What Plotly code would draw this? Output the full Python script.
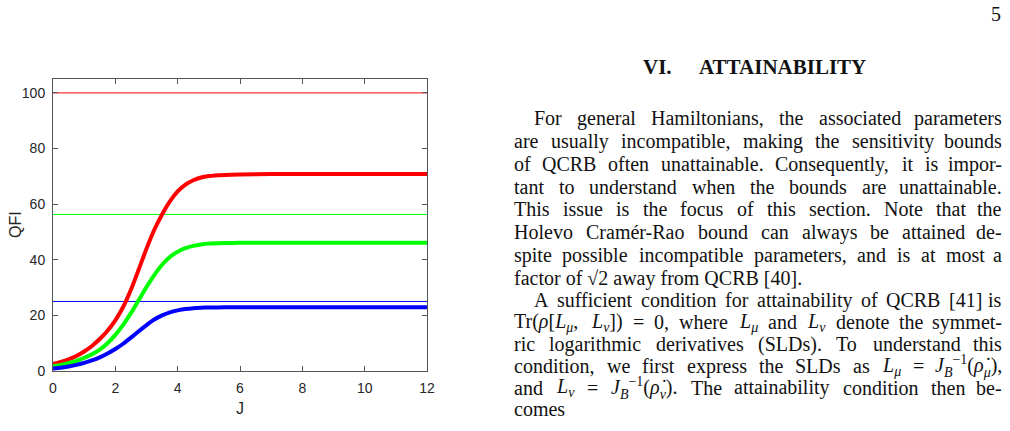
import plotly.graph_objects as go

# ---------------- data ----------------
J = [0, 0.25, 0.5, 0.75, 1.0, 1.25, 1.5, 1.75, 2.0, 2.25, 2.5, 2.75, 3.0, 3.25, 3.5,
     3.75, 4.0, 4.25, 4.5, 4.75, 5.0, 5.5, 6.0, 7, 8, 9, 10, 11, 12]
qfi_red = [2.6, 3.3, 4.2, 5.4, 7.0, 9.0, 11.5, 14.5, 18.2, 23.0, 29.2, 36.5, 44.0, 50.8, 56.3,
           61.0, 64.6, 67.0, 68.6, 69.6, 70.1, 70.5, 70.7, 70.8, 70.8, 70.8, 70.8, 70.8, 70.8]
qfi_green = [1.7, 2.2, 2.8, 3.6, 4.7, 6.0, 7.7, 10.0, 13.0, 16.6, 20.8, 25.5, 30.2, 34.5, 38.2,
             41.0, 42.9, 44.2, 45.0, 45.5, 45.8, 46.0, 46.1, 46.1, 46.1, 46.1, 46.1, 46.1, 46.1]
qfi_blue = [0.9, 1.2, 1.6, 2.2, 2.9, 3.8, 4.9, 6.3, 7.9, 9.8, 12.0, 14.3, 16.5, 18.5, 20.0,
            21.1, 21.8, 22.3, 22.6, 22.75, 22.85, 22.9, 22.95, 22.95, 22.95, 22.95, 22.95, 22.95, 22.95]
bound_J = [0, 12]
bound_values = [100, 56.3, 25]
series_colors = ["#ff0000", "#00ff00", "#0000ff"]
x_ticks = [0, 2, 4, 6, 8, 10, 12]
y_ticks = [0, 20, 40, 60, 80, 100]

page_number = "5"
section_num = "VI."
section_title = "ATTAINABILITY"
body_lines = [
    # (text, indented, justified)
    ("For general Hamiltonians, the associated parameters", True, True),
    ("are usually incompatible, making the sensitivity bounds", False, True),
    ("of QCRB often unattainable. Consequently, it is impor-", False, True),
    ("tant to understand when the bounds are unattainable.", False, True),
    ("This issue is the focus of this section. Note that the", False, True),
    ("Holevo Cramér-Rao bound can always be attained de-", False, True),
    ("spite possible incompatible parameters, and is at most a", False, True),
    ("factor of √2 away from QCRB [40].", False, False),
    ("A sufficient condition for attainability of QCRB [41] is", True, True),
    ("Tr(<i>ρ</i>[<i>L</i><sub><i>μ</i></sub>, <i>L</i><sub><i>ν</i></sub>]) = 0, where <i>L</i><sub><i>μ</i></sub> and <i>L</i><sub><i>ν</i></sub> denote the symmet-", False, True),
    ("ric logarithmic derivatives (SLDs). To understand this", False, True),
    ("condition, we first express the SLDs as <i>L</i><sub><i>μ</i></sub> = <i>J</i><sub><i>B</i></sub><sup>−1</sup>(<i>ρ̇</i><sub><i>μ</i></sub>),", False, True),
    ("and <i>L</i><sub><i>ν</i></sub> = <i>J</i><sub><i>B</i></sub><sup>−1</sup>(<i>ρ̇</i><sub><i>ν</i></sub>). The attainability condition then be-", False, True),
    ("comes", False, False),
]
line_y_px = [118, 141, 164, 187, 209, 232, 255, 278, 300, 322, 344, 366, 388, 409]

# ---------------- layout geometry ----------------
FIG_W, FIG_H = 1010, 431
L, R, T, B = 53, 427, 79, 371
PW, PH = R - L, B - T


def px_x(px):
    return (px - L) / PW


def px_y(py):
    return (B - py) / PH


# Times-compatible advance widths (1/1000 em)
TW = {' ': 250, 'a': 444, 'b': 500, 'c': 444, 'd': 500, 'e': 444, 'f': 333, 'g': 500, 'h': 500,
      'i': 278, 'j': 278, 'k': 500, 'l': 278, 'm': 778, 'n': 500, 'o': 500, 'p': 500, 'q': 500,
      'r': 333, 's': 389, 't': 278, 'u': 500, 'v': 500, 'w': 722, 'x': 500, 'y': 500, 'z': 444,
      'A': 722, 'B': 667, 'C': 667, 'D': 722, 'E': 611, 'F': 556, 'G': 722, 'H': 722, 'I': 333,
      'J': 389, 'K': 722, 'L': 611, 'M': 889, 'N': 722, 'O': 722, 'P': 556, 'Q': 722, 'R': 667,
      'S': 556, 'T': 611, 'U': 722, 'V': 722, 'W': 944, 'X': 722, 'Y': 722, 'Z': 611,
      ',': 250, '.': 250, '-': 333, '(': 333, ')': 333, '[': 333, ']': 333, '=': 564, 'é': 444,
      '√': 549, '−': 564, 'ρ': 500, 'μ': 500, 'ν': 450, '\u0307': 0}


def text_width(s, fs):
    total = 0.0
    scale = 1.0
    i = 0
    while i < len(s):
        if s[i] == '<':
            j = s.index('>', i)
            tag = s[i + 1:j]
            if tag in ('sub', 'sup'):
                scale = 0.7
            elif tag in ('/sub', '/sup'):
                scale = 1.0
            i = j + 1
            continue
        total += TW.get(s[i], 500) * scale
        i += 1
    return total * fs / 1000.0


BODY_FONT = dict(family="Liberation Serif", size=20, color="#111111")
FS = BODY_FONT["size"]
X_LEFT, X_INDENT, X_RIGHT = 513, 533, 1003

annotations = []


def add_text(text, xpx, ypx, xanchor="left", font=None, textangle=0):
    annotations.append(dict(
        text=text, x=px_x(xpx), y=px_y(ypx), xref="paper", yref="paper",
        xanchor=xanchor, yanchor="middle", showarrow=False, borderpad=0,
        font=font or BODY_FONT, textangle=textangle))


for (txt, indent, justify), ypx in zip(body_lines, line_y_px):
    x0 = X_INDENT if indent else X_LEFT
    if not justify:
        add_text(txt, x0, ypx)
        continue
    words = txt.split(' ')
    widths = [text_width(w, FS) for w in words]
    gap = (X_RIGHT - x0 - sum(widths)) / (len(words) - 1)
    xpos = x0
    for k, (w, wd) in enumerate(zip(words, widths)):
        if k == len(words) - 1:
            add_text(w, X_RIGHT, ypx, xanchor="right")
        else:
            add_text(w, xpos, ypx)
        xpos += wd + gap

TITLE_FONT = dict(family="Liberation Serif", size=21, color="#111111", weight="bold")
add_text(section_num, 642, 67, font=TITLE_FONT)
add_text(section_title, 698, 67, font=TITLE_FONT)
add_text(page_number, 996, 14, xanchor="center",
         font=dict(family="Liberation Serif", size=20, color="#111111"))

AX_FONT = dict(family="Liberation Sans", size=16, color="#262626")
add_text("QFI", 15, 225, xanchor="center", font=AX_FONT, textangle=-90)
add_text("J", 240, 408, xanchor="center", font=AX_FONT)

# ---------------- figure ----------------
fig = go.Figure()
for val, col in zip(bound_values, series_colors):
    fig.add_trace(go.Scatter(x=bound_J, y=[val, val], mode="lines",
                             line=dict(color=col, width=1), showlegend=False,
                             hoverinfo="skip"))
for ys, col in zip([qfi_red, qfi_green, qfi_blue], series_colors):
    fig.add_trace(go.Scatter(x=J, y=ys, mode="lines",
                             line=dict(color=col, width=4, shape="spline", smoothing=0.6),
                             showlegend=False))

axis_common = dict(showline=True, linecolor="#555555", linewidth=1, mirror="ticks",
                   ticks="inside", ticklen=5, tickwidth=1, tickcolor="#555555",
                   showgrid=False, zeroline=False,
                   tickfont=dict(family="Liberation Sans", size=14, color="#262626"))

fig.update_layout(
    width=FIG_W, height=FIG_H,
    margin=dict(l=L, r=FIG_W - R, t=T, b=FIG_H - B, pad=0),
    paper_bgcolor="white", plot_bgcolor="white",
    xaxis=dict(range=[0, 12], tickvals=x_ticks, ticklabelstandoff=4, **axis_common),
    yaxis=dict(range=[0, 105], tickvals=y_ticks, ticklabelstandoff=4, **axis_common),
    annotations=annotations,
    showlegend=False,
)

fig.write_html("out.html")
